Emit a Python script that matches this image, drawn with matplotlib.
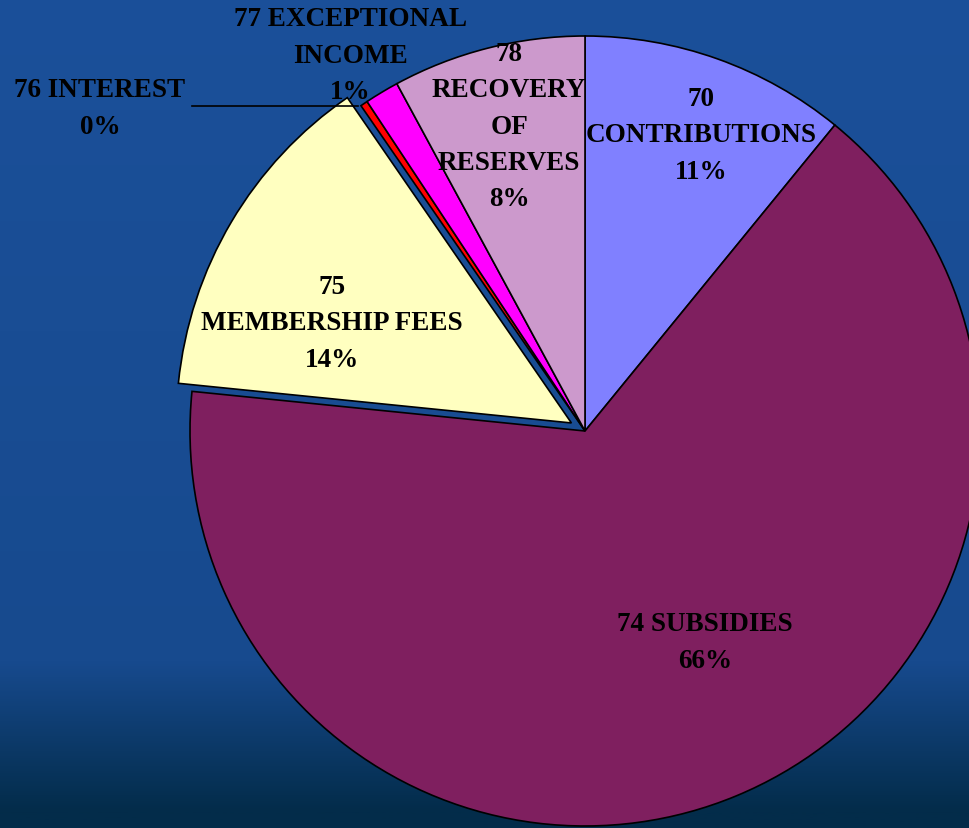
import numpy as np
import matplotlib
matplotlib.use("Agg")
import matplotlib.pyplot as plt

# ---- data ----
codes = ["70", "74", "75", "76", "77", "78"]
names = ["CONTRIBUTIONS", "SUBSIDIES", "MEMBERSHIP FEES", "INTEREST",
         "EXCEPTIONAL INCOME", "RECOVERY OF RESERVES"]
values = [10.9, 65.7, 13.8, 0.3, 1.4, 7.9]
colors = ["#8080FF", "#7F1F5F", "#FFFFC0", "#FF0000", "#FF00FF", "#CC99CC"]
explode_frac = [0, 0, 0.04, 0, 0, 0]

W, H = 969, 829
fig = plt.figure(figsize=(W / 100, H / 100), dpi=100)
ax = fig.add_axes([0, 0, 1, 1])
ax.set_xlim(0, W)
ax.set_ylim(0, H)
ax.axis("off")

# background gradient
n = 400
grad = np.zeros((n, 1, 3))
top = np.array([0x1B, 0x50, 0x9A]) / 255
mid = np.array([0x17, 0x4A, 0x8E]) / 255
bot = np.array([0x03, 0x2C, 0x4A]) / 255
for i in range(n):
    t = i / (n - 1)
    if t < 0.80:
        c = top + (mid - top) * (t / 0.80)
    else:
        c = mid + (bot - mid) * min(1, (t - 0.80) / 0.18)
    grad[i, 0] = c
ax.imshow(grad, extent=(0, W, 0, H), aspect="auto", zorder=0)

cx, cy, R = 585, H - 432, 395
wedges, _ = ax.pie(values, colors=colors, startangle=90, counterclock=False,
                   center=(cx, cy), radius=R,
                   explode=[e * R for e in explode_frac], frame=False,
                   wedgeprops=dict(edgecolor="black", linewidth=1.2))
for w in wedges:
    w.set_zorder(2)
ax.set_xlim(0, W)
ax.set_ylim(0, H)
ax.set_aspect("equal")

pct = [f"{round(v)}%" for v in values]
font = dict(family="Liberation Serif", fontweight="bold", fontsize=19.5,
            color="black", ha="center", va="center", linespacing=1.6, zorder=5)

def T(x, y, s):
    ax.text(x, H - y, s, **font)

T(701, 136, f"{codes[0]}\n{names[0]}\n{pct[0]}")
T(705, 643, f"{codes[1]} {names[1]}\n{pct[1]}")
T(332, 324, f"{codes[2]}\nMEMBERSHIP FEES\n{pct[2]}")
T(100, 109, f"{codes[3]} {names[3]}\n{pct[3]}")
T(350, 56, f"{codes[4]} EXCEPTIONAL\nINCOME\n{pct[4]}")
T(509, 127, f"{codes[5]}\nRECOVERY\nOF\nRESERVES\n{pct[5]}")

ax.plot([192, 358], [H - 107, H - 107], color="black", lw=1.2, zorder=4)

fig.savefig("out.png", dpi=100)
